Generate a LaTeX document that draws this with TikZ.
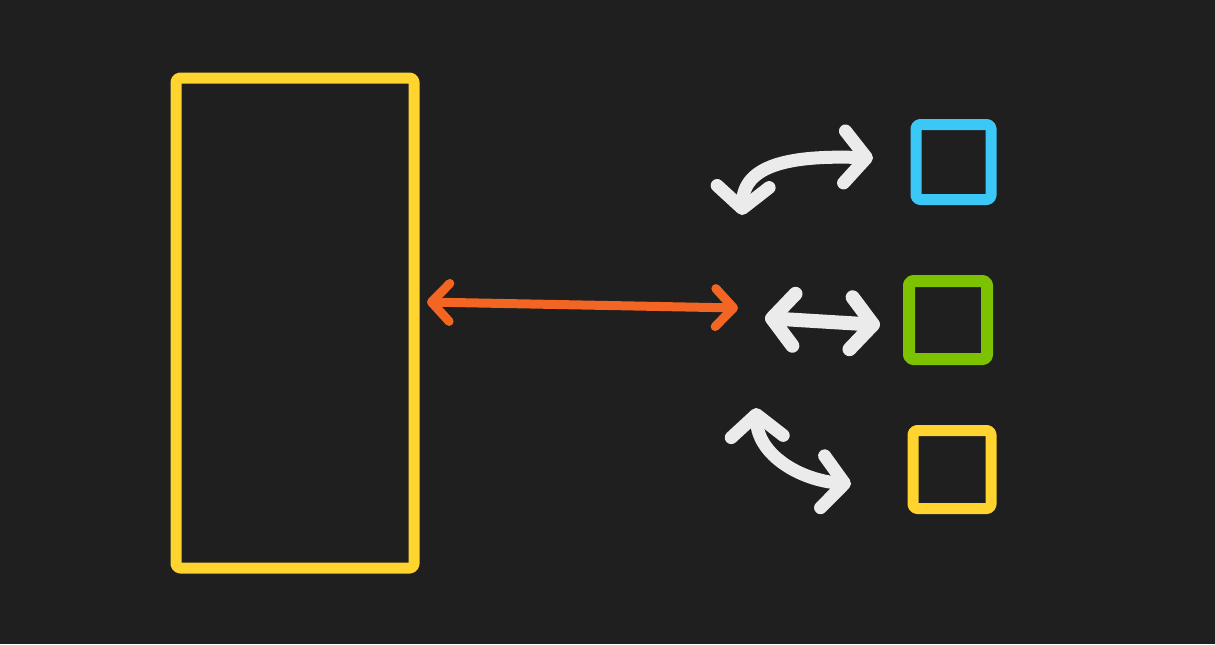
\documentclass[tikz,border=0pt]{standalone}
\usepackage{tikz}
\usetikzlibrary{arrows.meta,positioning}
\definecolor{bgdark}{HTML}{1F1F1F}
\definecolor{sunyellow}{HTML}{FFD42E}
\definecolor{skyblue}{HTML}{3CC8F7}
\definecolor{leafgreen}{HTML}{7CC200}
\definecolor{flameorange}{HTML}{F26522}
\definecolor{chalk}{HTML}{EBEBEB}
\begin{document}
\begin{tikzpicture}[x=0.5pt,y=-0.5pt]
			\tikzstyle{every node}+=[inner sep=0pt]
			\tikzstyle{box}=[draw, rounded corners=2pt, line join=round]
			\tikzstyle{link}=[line cap=round, {Straight Barb[round,length=11pt,width=26pt]}-{Straight Barb[round,length=11pt,width=26pt]}]
			\fill [bgdark] (0,0) rectangle (1215,644);
			% big store on the left
			\node [box, sunyellow, line width=5.5pt, minimum width=119pt, minimum height=245pt] (store) at (295,323) {};
			% three small boxes
			\node [box, skyblue, line width=5.5pt, minimum size=37.5pt] (boxa) at (953.5,162) {};
			\node [box, leafgreen, line width=6pt, minimum size=39pt] (boxb) at (948,320) {};
			\node [box, sunyellow, line width=5.5pt, minimum size=39pt] (boxc) at (952,469.5) {};
			% arrow ends
			\coordinate (o1) at (427,302);
			\coordinate (o2) at (738,308);
			\coordinate (t1) at (742,215);
			\coordinate (t2) at (873,158);
			\coordinate (m1) at (765,318);
			\coordinate (m2) at (880,325);
			\coordinate (b1) at (756,408);
			\coordinate (b2) at (851,484);
			\draw [link, flameorange, line width=4.5pt, {Straight Barb[round,length=9pt,width=19pt]}-{Straight Barb[round,length=9pt,width=19pt]}] (o1) -- (o2);
			\draw [link, chalk, line width=6.5pt] (t1) .. controls (744,165) and (790,155) .. (t2);
			\draw [link, chalk, line width=7pt] (m1) -- (m2);
			\draw [link, chalk, line width=6.5pt] (b1) .. controls (758,455) and (800,480) .. (b2);
\end{tikzpicture}
\end{document}
